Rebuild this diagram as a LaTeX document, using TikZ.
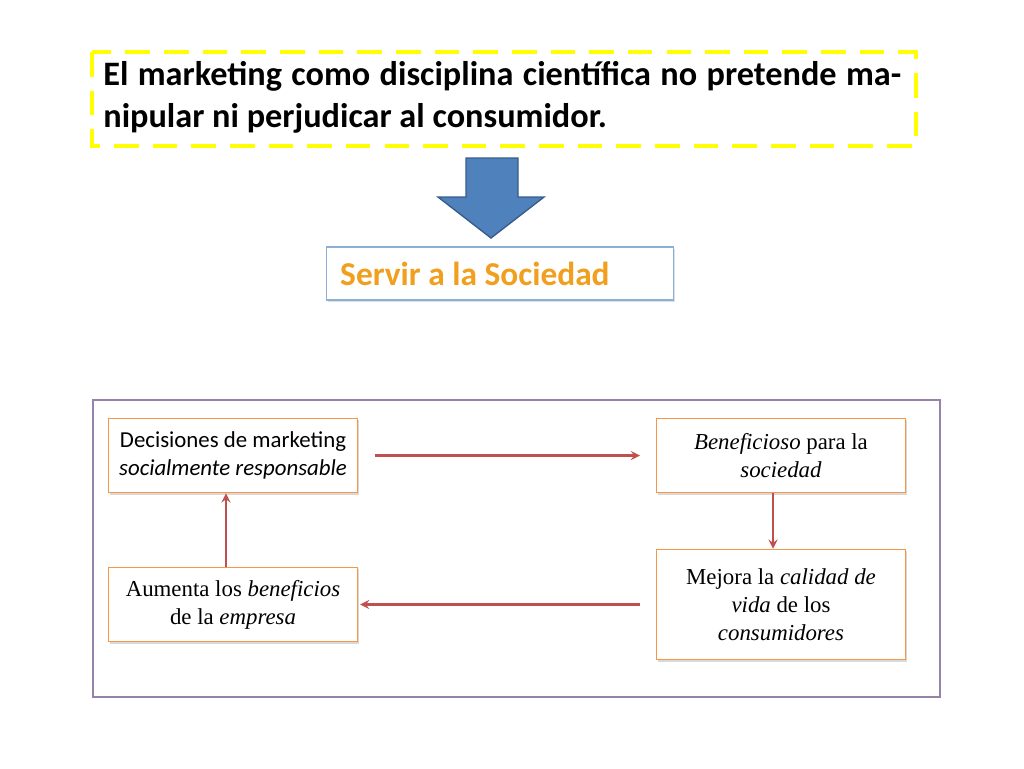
\documentclass[tikz,border=0pt]{standalone}
\usepackage{fontspec}
\setmainfont{Liberation Serif}
\newfontfamily\carfont{Carlito}
\usetikzlibrary{shadows}
\definecolor{ylw}{RGB}{255,255,0}
\definecolor{blu}{RGB}{79,129,189}
\definecolor{dblu}{RGB}{56,93,138}
\definecolor{org}{RGB}{247,150,70}
\definecolor{gold}{RGB}{240,160,30}
\definecolor{lblu}{RGB}{140,175,215}
\definecolor{purp}{RGB}{150,130,170}
\definecolor{redc}{RGB}{192,80,77}
\tikzset{box/.style={draw=org,fill=white,line width=0.6pt,drop shadow={shadow xshift=1pt,shadow yshift=-1pt,opacity=0.3},align=center,font=\fontsize{13}{16}\selectfont},
arr/.style={draw=redc,line width=1.3pt,-stealth}}
\begin{document}
\begin{tikzpicture}[x=0.02cm,y=-0.02cm]
\useasboundingbox (0,0) rectangle (1024,768);
\draw[ylw,line width=2.5pt,dash pattern=on 14pt off 8pt] (92,52) rectangle (916,146);
\node[anchor=north west,text width=801*0.567pt,align=justify,inner sep=0pt,font=\carfont\bfseries\fontsize{19.5}{24}\selectfont] (t) at (103,61) {El marketing como disciplina científica no pretende manipular ni perjudicar al consumidor.};
\draw[fill=blu,draw=dblu,line width=0.8pt] (466,158)--(518,158)--(518,197)--(544,197)--(491,238)--(438,197)--(466,197)--cycle;
\node[draw=lblu,fill=white,line width=0.8pt,minimum width=348*0.567pt,minimum height=53*0.567pt,drop shadow={shadow xshift=1pt,shadow yshift=-1pt,opacity=0.25}] (s) at (500,273.5) {};
\node[anchor=west,text=gold,font=\carfont\bfseries\fontsize{19}{22}\selectfont] at (334,274) {Servir a la Sociedad};
\draw[purp,line width=0.8pt] (93,400) rectangle (940,697);
\node[box,minimum width=250*0.567pt,minimum height=75*0.567pt,font=\carfont\fontsize{13}{16}\selectfont] (n1) at (233,455.5) {Decisiones de marketing\\\textit{socialmente responsable}};
\node[box,minimum width=250*0.567pt,minimum height=75*0.567pt] (n2) at (781,455.5) {\textit{Beneficioso} para la\\\textit{sociedad}};
\node[box,minimum width=250*0.567pt,minimum height=111*0.567pt] (n3) at (781,604.5) {Mejora la \textit{calidad de}\\\textit{vida} de los\\\textit{consumidores}};
\node[box,minimum width=250*0.567pt,minimum height=75*0.567pt] (n4) at (233,604.5) {Aumenta los \textit{beneficios}\\de la \textit{empresa}};
\draw[arr] ([xshift=17*0.567pt]n1.east) -- ([xshift=-16*0.567pt]n2.west);
\draw[arr] ([xshift=-8*0.567pt]n2.south) -- ([xshift=-8*0.567pt]n3.north);
\draw[arr] ([xshift=-16*0.567pt]n3.west) -- ([xshift=2*0.567pt]n4.east);
\draw[arr] ([xshift=-7*0.567pt]n4.north) -- ([xshift=-7*0.567pt]n1.south);
\end{tikzpicture}
\end{document}
